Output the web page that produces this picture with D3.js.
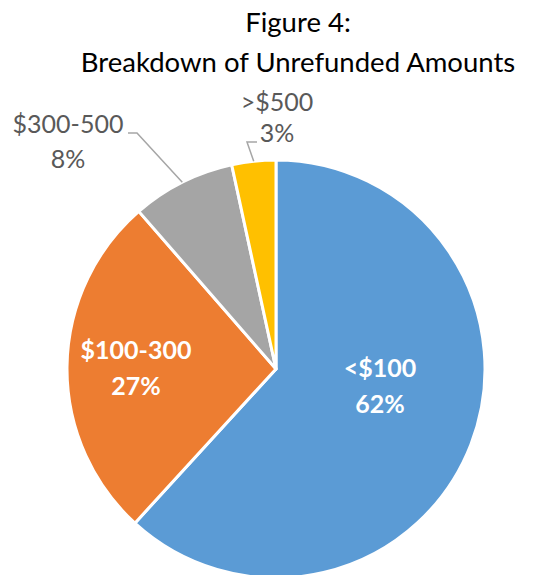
<!DOCTYPE html>
<html><head><meta charset="utf-8">
<script src="https://cdn.jsdelivr.net/npm/d3@7"></script>
<style>body{margin:0;background:#fff}svg{display:block}</style>
</head><body>
<svg id="c" width="538" height="575"></svg>
<script>
const categories = ["<$100", "$100-300", "$300-500", ">$500"];
const values = [61.8, 26.8, 8.0, 3.4];
const colors = ["#5B9BD5", "#ED7D31", "#A5A5A5", "#FFC000"];
const titleLines = ["Figure 4:", "Breakdown of Unrefunded Amounts"];

const svg = d3.select("#c");
const W = 538, H = 575;
const cx = 276, cy = 369, R = 209;
const font = "Lato, 'Open Sans', sans-serif";

svg.append("rect").attr("width", W).attr("height", H).attr("fill", "#fff");

// title
svg.append("g").selectAll("text").data(titleLines).join("text")
  .attr("x", 298).attr("y", (d, i) => 32 + i * 40)
  .attr("text-anchor", "middle")
  .attr("font-family", font).attr("font-size", 27.5).attr("fill", "#000")
  .text(d => d);

const data = categories.map((c, i) => ({cat: c, value: values[i], color: colors[i]}));
const pie = d3.pie().value(d => d.value).sort(null).startAngle(0).endAngle(2 * Math.PI);
const arcs = pie(data);
const arc = d3.arc().innerRadius(0).outerRadius(R);

const g = svg.append("g").attr("transform", `translate(${cx},${cy})`);
g.selectAll("path").data(arcs).join("path")
  .attr("d", arc)
  .attr("fill", d => d.data.color)
  .attr("stroke", "#fff").attr("stroke-width", 3).attr("stroke-linejoin", "round");

const fmt = d3.format(".0f");
const total = d3.sum(values);
const pct = d => fmt(d.data.value / total * 100) + "%";

// inside labels (first two slices), offsets relative to pie centre
const insideOffsets = [[104, 16], [-140, -2]];
arcs.slice(0, 2).forEach((a, i) => {
  const [x, y] = insideOffsets[i];
  const t = g.append("text").attr("text-anchor", "middle")
    .attr("font-family", font).attr("font-weight", "bold").attr("font-size", 25).attr("fill", "#fff");
  t.append("tspan").attr("x", x).attr("y", y - 8).text(a.data.cat);
  t.append("tspan").attr("x", x).attr("y", y + 28).text(pct(a));
});

// outside labels with leader lines
const outside = [
  {idx: 2, lx: 68, ly1: 133, ly2: 168, start: [128, 133], elbow: [137, 133]},
  {idx: 3, lx: 277, ly1: 111, ly2: 142, start: [257, 142], elbow: [247, 142]}
];
outside.forEach(o => {
  const a = arcs[o.idx];
  const mid = (a.startAngle + a.endAngle) / 2;
  const px = cx + Math.sin(mid) * R, py = cy - Math.cos(mid) * R;
  const t = svg.append("text").attr("text-anchor", "middle")
    .attr("font-family", font).attr("font-size", 25).attr("fill", "#595959");
  t.append("tspan").attr("x", o.lx).attr("y", o.ly1).text(a.data.cat);
  t.append("tspan").attr("x", o.lx).attr("y", o.ly2).text(pct(a));
  svg.append("polyline")
    .attr("points", `${o.start[0]},${o.start[1]} ${o.elbow[0]},${o.elbow[1]} ${px},${py}`)
    .attr("fill", "none").attr("stroke", "#A6A6A6").attr("stroke-width", 1.5);
});
</script>
</body></html>
